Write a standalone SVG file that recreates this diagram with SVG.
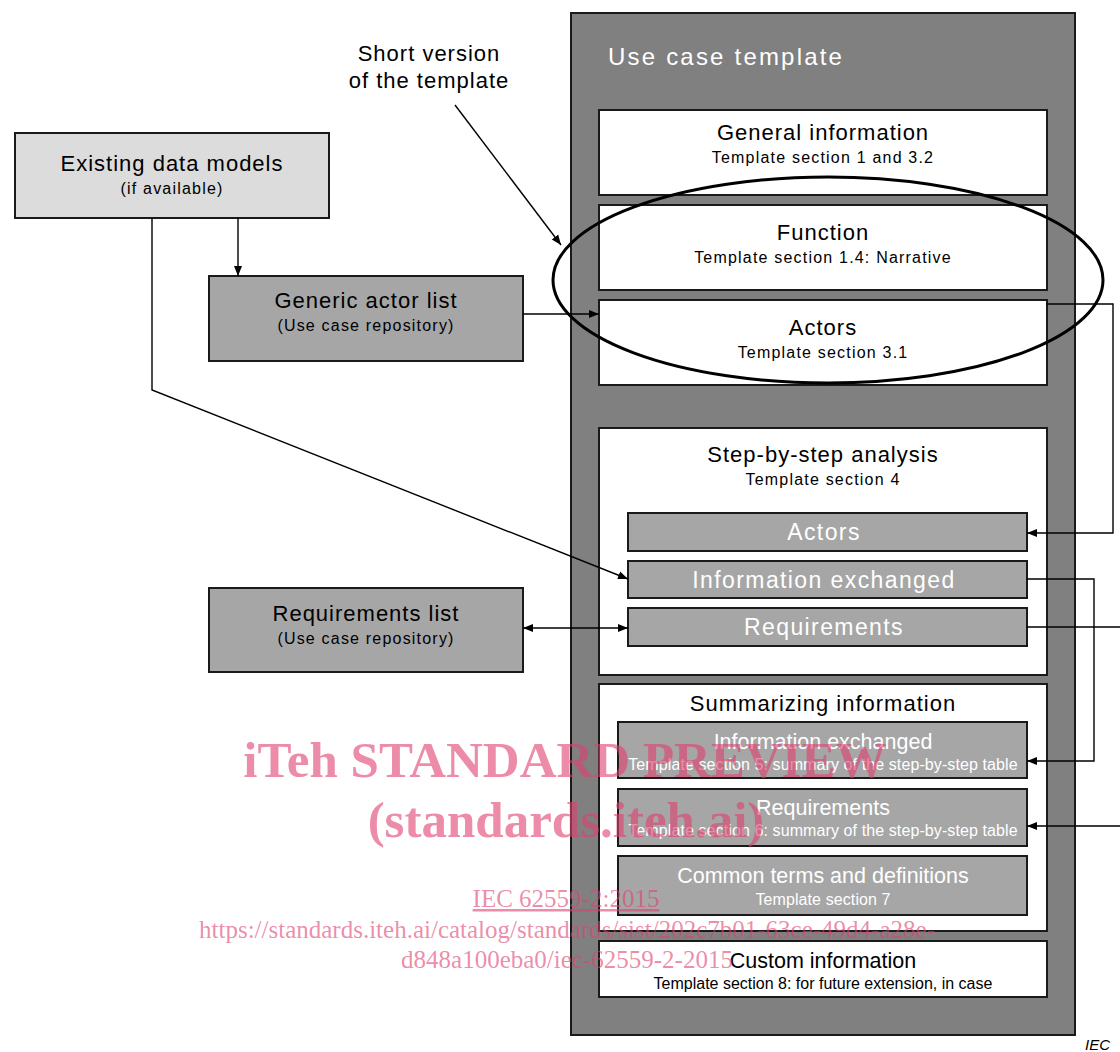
<svg xmlns="http://www.w3.org/2000/svg" width="1120" height="1052" viewBox="0 0 1120 1052">
<defs>
<marker id="ah" viewBox="0 0 10 10" refX="10" refY="5" markerWidth="10" markerHeight="10" markerUnits="userSpaceOnUse" orient="auto-start-reverse">
<path d="M0,1 L10,5 L0,9 Z" fill="#000"/>
</marker>
<style>
text{font-family:"Liberation Sans",Arial,sans-serif;text-anchor:middle}
.box{stroke:#1a1a1a;stroke-width:2}
.white{fill:#fff}
.light{fill:#dcdcdc}
.mid{fill:#a6a6a6}
.dark{fill:#808080}
.t{font-size:22px;fill:#000;letter-spacing:1px}
.s{font-size:16px;fill:#000;letter-spacing:1.2px}
.wt{font-size:23px;fill:#fff;letter-spacing:1.4px}
.wt2{font-size:21.5px;fill:#fff}
.ws{font-size:16px;fill:#fff;letter-spacing:0.1px}
.con{fill:none;stroke:#000;stroke-width:1.4}
.wm{font-family:"Liberation Serif","Times New Roman",serif;fill:#e0406f;fill-opacity:0.6}
</style>
</defs>
<rect width="1120" height="1052" fill="#fff"/>

<g id="use-case-template">
<rect class="box dark" x="571" y="13" width="504" height="1022"/>
<text x="608" y="65" style="text-anchor:start;font-size:24px;fill:#fff;letter-spacing:2.2px">Use case template</text>
</g>

<g id="general-information">
<rect class="box white" x="599" y="110" width="448" height="85"/>
<text class="t" x="823" y="140">General information</text>
<text class="s" x="823" y="163">Template section 1 and 3.2</text>
</g>

<g id="function">
<rect class="box white" x="599" y="205" width="448" height="85"/>
<text class="t" x="823" y="240">Function</text>
<text class="s" x="823" y="263">Template section 1.4: Narrative</text>
</g>

<g id="actors">
<rect class="box white" x="599" y="300" width="448" height="85"/>
<text class="t" x="823" y="335">Actors</text>
<text class="s" x="823" y="358">Template section 3.1</text>
</g>

<g id="step-by-step">
<rect class="box white" x="599" y="428" width="448" height="247"/>
<text class="t" x="823" y="462">Step-by-step analysis</text>
<text class="s" x="823" y="485">Template section 4</text>
</g>

<g id="sbs-actors">
<rect class="box mid" x="628" y="513" width="399" height="38"/>
<text class="wt" x="824" y="540">Actors</text>
</g>

<g id="sbs-information-exchanged">
<rect class="box mid" x="628" y="561" width="399" height="37"/>
<text class="wt" x="824" y="588">Information exchanged</text>
</g>

<g id="sbs-requirements">
<rect class="box mid" x="628" y="608" width="399" height="38"/>
<text class="wt" x="824" y="635">Requirements</text>
</g>

<g id="summarizing">
<rect class="box white" x="599" y="684" width="448" height="247"/>
<text class="t" x="823" y="711">Summarizing information</text>
</g>

<g id="sum-information-exchanged">
<rect class="box mid" x="618" y="722" width="409" height="56"/>
<text class="wt2" x="823" y="749">Information exchanged</text>
<text class="ws" x="823" y="770">Template section 5: summary of the step-by-step table</text>
</g>

<g id="sum-requirements">
<rect class="box mid" x="618" y="789" width="409" height="57"/>
<text class="wt2" x="823" y="815">Requirements</text>
<text class="ws" x="823" y="836">Template section 6: summary of the step-by-step table</text>
</g>

<g id="common-terms">
<rect class="box mid" x="618" y="856" width="409" height="59"/>
<text class="wt2" x="823" y="883">Common terms and definitions</text>
<text class="ws" x="823" y="905">Template section 7</text>
</g>

<g id="custom-information">
<rect class="box white" x="599" y="941" width="448" height="56"/>
<text x="823" y="968" style="font-size:21.5px;fill:#000">Custom information</text>
<text x="823" y="989" style="font-size:16px;fill:#000">Template section 8: for future extension, in case</text>
</g>

<g id="existing-data-models">
<rect class="box light" x="15" y="133" width="314" height="85"/>
<text class="t" x="172" y="171">Existing data models</text>
<text class="s" x="172" y="194">(if available)</text>
</g>

<g id="generic-actor-list">
<rect class="box mid" x="209" y="276" width="314" height="85"/>
<text class="t" x="366" y="308">Generic actor list</text>
<text class="s" x="366" y="331">(Use case repository)</text>
</g>

<g id="requirements-list">
<rect class="box mid" x="209" y="588" width="314" height="84"/>
<text class="t" x="366" y="621">Requirements list</text>
<text class="s" x="366" y="644">(Use case repository)</text>
</g>

<g id="short-version-label">
<text class="t" x="429" y="61">Short version</text>
<text class="t" x="429" y="88">of the template</text>
</g>

<g id="short-version-ellipse">
<ellipse cx="828" cy="280" rx="275" ry="103" fill="none" stroke="#000" stroke-width="3"/>
</g>

<g id="connectors">
<line class="con" x1="455" y1="105" x2="561" y2="245" marker-end="url(#ah)"/>
<line class="con" x1="238" y1="218" x2="238" y2="276" marker-end="url(#ah)"/>
<polyline class="con" points="152,218 152,390 628,579" marker-end="url(#ah)"/>
<line class="con" x1="523" y1="314" x2="599" y2="314" marker-end="url(#ah)"/>
<line class="con" x1="523" y1="628" x2="628" y2="628" marker-start="url(#ah)" marker-end="url(#ah)"/>
<polyline class="con" points="1047,304 1113,304 1113,533 1027,533" marker-end="url(#ah)"/>
<polyline class="con" points="1027,579 1094,579 1094,761 1027,761" marker-end="url(#ah)"/>
<polyline class="con" points="1027,627 1125,627 1125,826 1027,826" marker-end="url(#ah)"/>
</g>

<text x="1110" y="1050" style="text-anchor:end;font-size:15px;font-style:italic;fill:#000">IEC</text>

<g id="watermark">
<text class="wm" x="565" y="777" style="font-size:51px;font-weight:bold">iTeh STANDARD PREVIEW</text>
<text class="wm" x="566" y="837" style="font-size:51px;font-weight:bold">(standards.iteh.ai)</text>
<text class="wm" x="566" y="907" style="font-size:25px;text-decoration:underline">IEC 62559-2:2015</text>
<text class="wm" x="567" y="938" style="font-size:25px">https://standards.iteh.ai/catalog/standards/sist/202c7b01-63ce-49d4-a28e-</text>
<text class="wm" x="567" y="968" style="font-size:25px">d848a100eba0/iec-62559-2-2015</text>
</g>
</svg>
